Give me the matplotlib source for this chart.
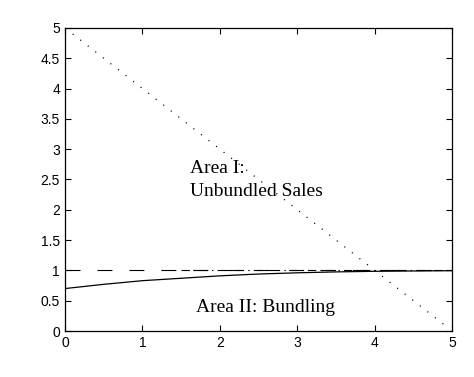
import matplotlib
matplotlib.use("Agg")
import matplotlib.pyplot as plt

# curve values
x_curve = [0, 0.5, 1, 1.5, 2, 2.5, 3, 3.5, 4, 4.5, 5]
y_curve = [0.70, 0.77, 0.83, 0.87, 0.91, 0.94, 0.96, 0.975, 0.985, 0.99, 0.995]

x_diag = [0.1, 4.9]
y_diag = [4.9, 0.1]

x_flat = [0, 5]
y_flat = [1, 1]

x_dashdot = [1.5, 5]
y_dashdot = [1, 1]

xticks = [0, 1, 2, 3, 4, 5]
yticks = [0, 0.5, 1, 1.5, 2, 2.5, 3, 3.5, 4, 4.5, 5]

plt.rcParams['lines.scale_dashes'] = False
plt.rcParams['font.family'] = 'Liberation Sans'

fig = plt.figure(figsize=(4.74, 3.77), dpi=100)
ax = fig.add_axes([0.137, 0.122, 0.817, 0.804])

ax.plot(x_diag, y_diag, color='black', lw=0.9, linestyle=(0, (0.8, 6.1)))
ax.plot(x_flat, y_flat, color='black', lw=0.8, linestyle=(0, (10.8, 12.2)))
ax.plot(x_dashdot, y_dashdot, color='black', lw=0.8, linestyle=(0, (6, 3, 1, 3)))
ax.plot(x_curve, y_curve, color='black', lw=0.9)

ax.text(1.61, 2.6, 'Area I:', family='Liberation Serif', fontsize=14)
ax.text(1.61, 2.23, 'Unbundled Sales', family='Liberation Serif', fontsize=14)
ax.text(1.69, 0.31, 'Area II: Bundling', family='Liberation Serif', fontsize=14)

ax.set_xlim(0, 5)
ax.set_ylim(0, 5)
ax.set_xticks(xticks)
ax.set_yticks(yticks)
ax.set_xticklabels([str(t) for t in xticks])
ax.set_yticklabels(['%g' % t for t in yticks])
ax.tick_params(direction='in', top=True, right=True, length=4, width=0.8, labelsize=10)
for s in ax.spines.values():
    s.set_linewidth(0.9)

fig.savefig('out.png', dpi=100)
